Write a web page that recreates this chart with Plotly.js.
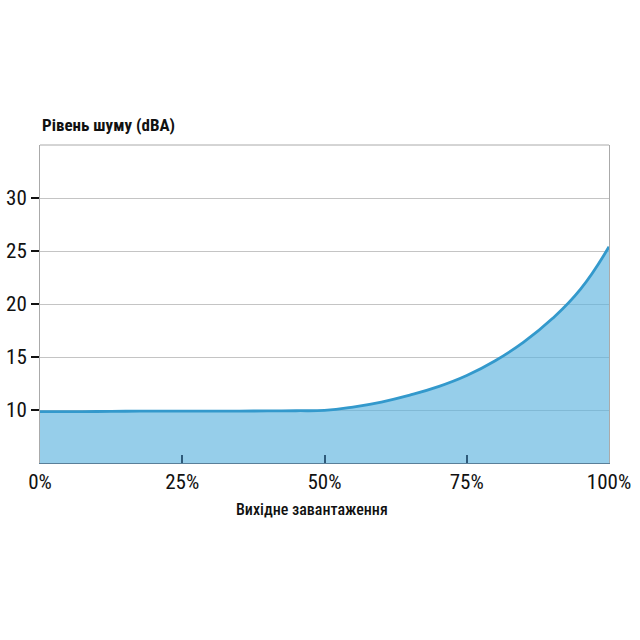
<!DOCTYPE html><html><head><script src="https://cdn.plot.ly/plotly-3.0.1.min.js"></script></head><body style="margin:0">
<div id="c" style="width:640px;height:640px"></div>
<script>
const loadPct = [0, 5, 10, 15, 20, 25, 30, 35, 40, 45, 50, 55, 60, 65, 70, 75, 80, 85, 90, 95, 100];
const noiseDbA = [9.85, 9.85, 9.86, 9.88, 9.9, 9.9, 9.9, 9.9, 9.91, 9.93, 9.97, 10.28, 10.75, 11.4, 12.2, 13.25, 14.65, 16.4, 18.6, 21.4, 25.4];
const xTickVals = [0, 25, 50, 75, 100];
const xTickText = ['0%', '25%', '50%', '75%', '100%'];
const yTickVals = [10, 15, 20, 25, 30];
const yTitle = 'Рівень шуму (dBA)';
const xTitle = 'Вихідне завантаження';

const F = 'Roboto Condensed';
const trace = {
  x: loadPct, y: noiseDbA, type: 'scatter', mode: 'lines',
  line: {color: 'rgb(51,153,204)', width: 2.8, shape: 'spline', smoothing: 1.3},
  fill: 'tozeroy', fillcolor: 'rgba(94,180,222,0.65)', hoverinfo: 'skip'
};
const layout = {
  width: 640, height: 640,
  margin: {l: 40, r: 31, t: 145, b: 177},
  paper_bgcolor: '#fff', plot_bgcolor: '#fff',
  showlegend: false,
  font: {family: F, color: '#111', size: 21},
  xaxis: {
    range: [0, 100], tickvals: xTickVals, ticktext: xTickText,
    ticks: 'inside', ticklen: 8, tickwidth: 2, tickcolor: '#2e5a7a',
    showgrid: false, zeroline: false,
    showline: true, linecolor: '#5a7f99', linewidth: 1, mirror: false,
    tickfont: {family: F, size: 21, color: '#111'}
  },
  yaxis: {
    range: [5, 35], tickvals: yTickVals,
    ticks: 'outside', ticklen: 8, tickwidth: 2, tickcolor: '#111',
    showgrid: true, gridcolor: '#c4c4c4', gridwidth: 1, zeroline: false,
    showline: true, linecolor: '#aaa', linewidth: 1, mirror: true,
    tickfont: {family: F, size: 21, color: '#111'}
  },
  shapes: [
    {type: 'line', xref: 'paper', yref: 'paper', x0: 0, x1: 1, y0: 1, y1: 1, line: {color: '#aaa', width: 1}}
  ],
  annotations: [
    {text: yTitle, xref: 'paper', yref: 'paper', x: 0, y: 1, yshift: 8, xanchor: 'left', yanchor: 'bottom', showarrow: false,
     font: {family: F, size: 17, color: '#111', weight: 'bold'}},
    {text: xTitle, xref: 'paper', yref: 'paper', x: 0.478, y: 0, yshift: -35, xanchor: 'center', yanchor: 'top', showarrow: false,
     font: {family: F, size: 16, color: '#111', weight: 500}}
  ]
};
Plotly.newPlot('c', [trace], layout, {displayModeBar: false, staticPlot: true});
</script></body></html>
